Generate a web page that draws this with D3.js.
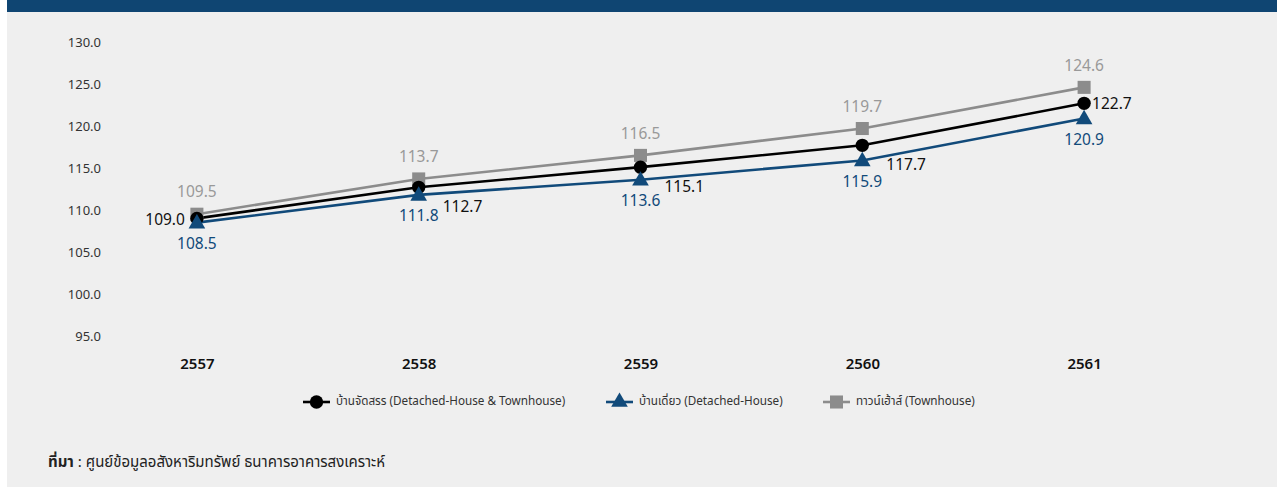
<!DOCTYPE html>
<html>
<head>
<meta charset="utf-8">
<script src="https://cdn.jsdelivr.net/npm/d3@7"></script>
<style>
  html, body { margin: 0; padding: 0; background: #ffffff; }
  svg { display: block; }
  text { font-family: "Noto Sans", "Noto Sans Thai", "Open Sans", sans-serif; }
</style>
</head>
<body>
<svg id="chart" width="1279" height="487"></svg>
<script>
// Housing price index by year (B.E.)
const years = ["2557", "2558", "2559", "2560", "2561"];
const allHousing = [109.0, 112.7, 115.1, 117.7, 122.7];     // บ้านจัดสรร
const detachedHouse = [108.5, 111.8, 113.6, 115.9, 120.9];  // บ้านเดี่ยว
const townhouse = [109.5, 113.7, 116.5, 119.7, 124.6];      // ทาวน์เฮ้าส์
const yTicks = [95, 100, 105, 110, 115, 120, 125, 130];
const seriesNames = [
  "บ้านจัดสรร (Detached-House & Townhouse)",
  "บ้านเดี่ยว (Detached-House)",
  "ทาวน์เฮ้าส์ (Townhouse)"
];
// where each value label of the combined series sits relative to its point
const allHousingLabelSide = ["left", "below-right", "below-right", "below-right", "right"];

const svg = d3.select("#chart");
const W = 1279, H = 487;

// panel background and header band
svg.append("rect").attr("x", 7).attr("y", 0).attr("width", 1270).attr("height", H).attr("fill", "#efefef");
svg.append("rect").attr("x", 7).attr("y", 0).attr("width", 1270).attr("height", 12).attr("fill", "#0f4572");

const x = d3.scalePoint().domain(years).range([86, 1195]).padding(0.5);
const y = d3.scaleLinear().domain([95, 130]).range([336, 42]);

// y axis labels
const yAxis = d3.axisLeft(y).tickValues(yTicks).tickFormat(d3.format(".1f")).tickSize(0).tickPadding(0);
const gy = svg.append("g").attr("transform", "translate(101,0)").call(yAxis);
gy.select(".domain").remove();
gy.selectAll("text").attr("font-size", 13).attr("fill", "#333")
  .attr("font-family", "'Noto Sans', sans-serif");

// x axis labels
const xAxis = d3.axisBottom(x).tickSize(0).tickPadding(0);
const gx = svg.append("g").attr("transform", "translate(0,358)").call(xAxis);
gx.select(".domain").remove();
gx.selectAll("text").attr("font-size", 15).attr("font-weight", 600).attr("fill", "#111")
  .attr("font-family", "'Noto Sans', sans-serif");

const series = [
  { name: seriesNames[0], values: allHousing, color: "#000000", labelColor: "#111111", marker: "circle" },
  { name: seriesNames[1], values: detachedHouse, color: "#114a7a", labelColor: "#114a7a", marker: "triangle" },
  { name: seriesNames[2], values: townhouse, color: "#8c8c8c", labelColor: "#999999", marker: "square" }
];

const symbolFor = {
  circle: d3.symbol().type(d3.symbolCircle).size(140),
  triangle: d3.symbol().type(d3.symbolTriangle).size(120),
  square: d3.symbol().type(d3.symbolSquare).size(170)
};

const line = d3.line().x((d, i) => x(years[i])).y(d => y(d));

// draw lines: gray first, then black, then blue on top
const drawOrder = [2, 0, 1];
drawOrder.forEach(k => {
  const s = series[k];
  svg.append("path").datum(s.values)
    .attr("d", line).attr("fill", "none")
    .attr("stroke", s.color).attr("stroke-width", 2.6);
});
drawOrder.forEach(k => {
  const s = series[k];
  svg.append("g").selectAll("path").data(s.values).join("path")
    .attr("d", symbolFor[s.marker])
    .attr("transform", (d, i) => `translate(${x(years[i])},${y(d) + (s.marker === "triangle" ? 1 : 0)})`)
    .attr("fill", s.color);
});

// value labels
const fmt = d3.format(".1f");
const labelSize = 15.5;
// townhouse: above
svg.append("g").selectAll("text").data(townhouse).join("text")
  .attr("x", (d, i) => x(years[i])).attr("y", d => y(d) - 21)
  .attr("text-anchor", "middle").attr("dominant-baseline", "middle")
  .attr("font-size", labelSize).attr("fill", "#999999").text(fmt);
// detached house: below
svg.append("g").selectAll("text").data(detachedHouse).join("text")
  .attr("x", (d, i) => x(years[i])).attr("y", d => y(d) + 22)
  .attr("text-anchor", "middle").attr("dominant-baseline", "middle")
  .attr("font-size", labelSize).attr("fill", "#114a7a").text(fmt);
// all housing: beside
svg.append("g").selectAll("text").data(allHousing).join("text")
  .attr("x", (d, i) => {
    const side = allHousingLabelSide[i];
    return side === "left" ? x(years[i]) - 12 : x(years[i]) + (side === "right" ? 8 : 24);
  })
  .attr("y", (d, i) => allHousingLabelSide[i] === "below-right" ? y(d) + 21 : y(d) + 2)
  .attr("text-anchor", (d, i) => allHousingLabelSide[i] === "left" ? "end" : "start")
  .attr("dominant-baseline", "middle")
  .attr("font-size", labelSize).attr("fill", "#111111").text(fmt);

// legend
const legendX = [303, 606, 823];
const legend = svg.append("g").attr("transform", "translate(0,402)");
series.forEach((s, k) => {
  const g = legend.append("g").attr("transform", `translate(${legendX[k]},0)`);
  g.append("line").attr("x1", 0).attr("x2", 27).attr("y1", 0).attr("y2", 0)
    .attr("stroke", s.color).attr("stroke-width", 2.6);
  g.append("path").attr("d", symbolFor[s.marker])
    .attr("transform", "translate(13.5,0)").attr("fill", s.color);
  g.append("text").attr("x", 33).attr("y", 0).attr("dominant-baseline", "middle")
    .attr("font-size", 11.7).attr("fill", "#333").text(s.name);
});

// source note
const src = svg.append("text").attr("x", 48).attr("y", 463).attr("dominant-baseline", "middle")
  .attr("font-size", 15).attr("fill", "#222");
src.append("tspan").attr("font-weight", "bold").text("ที่มา");
src.append("tspan").text(" : ศูนย์ข้อมูลอสังหาริมทรัพย์ ธนาคารอาคารสงเคราะห์");
</script>
</body>
</html>
